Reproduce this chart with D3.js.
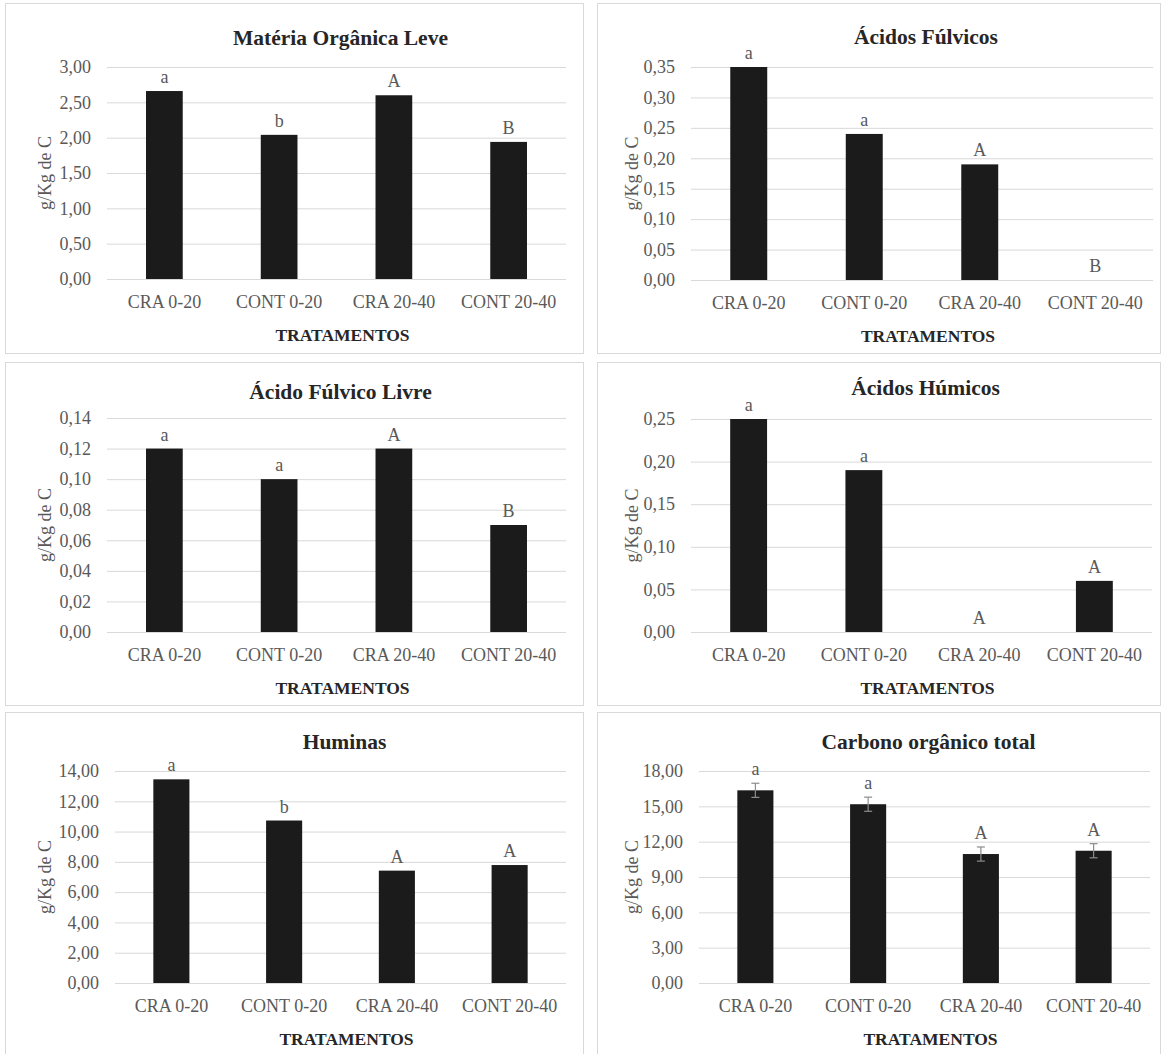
<!DOCTYPE html>
<html>
<head>
<meta charset="utf-8">
<script src="https://cdn.jsdelivr.net/npm/d3@7"></script>
<style>
  html, body { margin: 0; padding: 0; background: #ffffff; }
  svg { display: block; }
  svg text { font-family: "Liberation Serif", "Times New Roman", Times, "DejaVu Serif", serif !important; }
</style>
</head>
<body>
<svg id="chart" width="1163" height="1054"></svg>
<script>
// ---------- DATA ----------
const categories = ["CRA 0-20", "CONT 0-20", "CRA 20-40", "CONT 20-40"];

const molValues  = [2.66, 2.04, 2.60, 1.94];
const molLetters = ["a", "b", "A", "B"];
const molTicks   = [0, 0.5, 1, 1.5, 2, 2.5, 3];

const afValues  = [0.35, 0.24, 0.19, 0];
const afLetters = ["a", "a", "A", "B"];
const afTicks   = [0, 0.05, 0.10, 0.15, 0.20, 0.25, 0.30, 0.35];

const aflValues  = [0.12, 0.10, 0.12, 0.07];
const aflLetters = ["a", "a", "A", "B"];
const aflTicks   = [0, 0.02, 0.04, 0.06, 0.08, 0.10, 0.12, 0.14];

const ahValues  = [0.25, 0.19, 0, 0.06];
const ahLetters = ["a", "a", "A", "A"];
const ahTicks   = [0, 0.05, 0.10, 0.15, 0.20, 0.25];

const huValues  = [13.45, 10.73, 7.42, 7.79];
const huLetters = ["a", "b", "A", "A"];
const huTicks   = [0, 2, 4, 6, 8, 10, 12, 14];

const cotValues  = [16.36, 15.18, 10.95, 11.23];
const cotErrors  = [0.6, 0.6, 0.6, 0.6];
const cotLetters = ["a", "a", "A", "A"];
const cotTicks   = [0, 3, 6, 9, 12, 15, 18];

const titles = ["Matéria Orgânica Leve", "Ácidos Fúlvicos", "Ácido Fúlvico Livre",
                "Ácidos Húmicos", "Huminas", "Carbono orgânico total"];
const yTitle = "g/Kg de C";
const xTitle = "TRATAMENTOS";

// ---------- LAYOUT ----------
const panels = [
  { title: titles[0], values: molValues, letters: molLetters, ticks: molTicks, errors: null,
    box: [5, 3, 583, 353], px: [107, 566], py: [67, 279], titleY: 38, yTitleX: 45 },
  { title: titles[1], values: afValues, letters: afLetters, ticks: afTicks, errors: null,
    box: [597, 3, 1160, 353], px: [691, 1153], py: [67, 280], titleY: 37, yTitleX: 632 },
  { title: titles[2], values: aflValues, letters: aflLetters, ticks: aflTicks, errors: null,
    box: [5, 362, 583, 705], px: [107, 566], py: [418, 632], titleY: 392, yTitleX: 45 },
  { title: titles[3], values: ahValues, letters: ahLetters, ticks: ahTicks, errors: null,
    box: [597, 362, 1160, 705], px: [691, 1152], py: [419, 632], titleY: 388, yTitleX: 632 },
  { title: titles[4], values: huValues, letters: huLetters, ticks: huTicks, errors: null,
    box: [5, 712, 583, 1062], px: [115, 566], py: [771, 983], titleY: 742, yTitleX: 45 },
  { title: titles[5], values: cotValues, letters: cotLetters, ticks: cotTicks, errors: cotErrors,
    box: [597, 712, 1160, 1062], px: [699, 1150], py: [771, 983], titleY: 742, yTitleX: 632 }
];

const FONT = '"Liberation Serif", "Times New Roman", Times, "DejaVu Serif", serif';
const fmt = v => d3.format(".2f")(v).replace(".", ",");
const svg = d3.select("#chart");

panels.forEach(p => {
  const g = svg.append("g").attr("font-family", FONT);
  const [bx0, by0, bx1, by1] = p.box;
  g.append("rect")
    .attr("x", bx0 + 0.5).attr("y", by0 + 0.5)
    .attr("width", bx1 - bx0).attr("height", by1 - by0)
    .attr("fill", "#ffffff").attr("stroke", "#d9d9d9").attr("stroke-width", 1);

  const x = d3.scaleBand().domain(categories).range(p.px).padding(0);
  const maxT = d3.max(p.ticks);
  const y = d3.scaleLinear().domain([0, maxT]).range([p.py[1], p.py[0]]);
  const w = p.px[1] - p.px[0];

  // y axis with gridlines
  const ya = g.append("g")
    .attr("transform", `translate(${p.px[0]},0)`)
    .call(d3.axisLeft(y).tickValues(p.ticks).tickFormat(fmt).tickSize(-w).tickPadding(16));
  ya.attr("font-family", FONT).attr("font-size", 18);
  ya.select(".domain").remove();
  ya.selectAll(".tick line").attr("stroke", "#d9d9d9").attr("stroke-width", 1);
  ya.selectAll(".tick text").attr("fill", "#595959");

  // x axis labels
  const xa = g.append("g")
    .attr("transform", `translate(0,${p.py[1]})`)
    .call(d3.axisBottom(x).tickSize(0).tickPadding(16));
  xa.attr("font-family", FONT).attr("font-size", 18);
  xa.select(".domain").remove();
  xa.selectAll(".tick text").attr("fill", "#595959");

  // bars
  const bw = x.bandwidth() * 0.32;
  g.selectAll("rect.bar")
    .data(p.values)
    .join("rect")
    .attr("class", "bar")
    .attr("x", (d, i) => x(categories[i]) + x.bandwidth() / 2 - bw / 2)
    .attr("y", d => y(d))
    .attr("width", bw)
    .attr("height", d => y(0) - y(d))
    .attr("fill", "#1b1b1b");

  // error bars
  if (p.errors) {
    const eg = g.append("g").attr("stroke", "#8c8c8c").attr("stroke-width", 1.2);
    p.values.forEach((v, i) => {
      const cx = x(categories[i]) + x.bandwidth() / 2;
      const e = p.errors[i];
      eg.append("line").attr("x1", cx).attr("x2", cx).attr("y1", y(v - e)).attr("y2", y(v + e));
      eg.append("line").attr("x1", cx - 4).attr("x2", cx + 4).attr("y1", y(v + e)).attr("y2", y(v + e));
      eg.append("line").attr("x1", cx - 4).attr("x2", cx + 4).attr("y1", y(v - e)).attr("y2", y(v - e));
    });
  }

  // significance letters
  g.selectAll("text.letter")
    .data(p.letters)
    .join("text")
    .attr("class", "letter")
    .attr("x", (d, i) => x(categories[i]) + x.bandwidth() / 2)
    .attr("y", (d, i) => y(p.values[i] + (p.errors ? p.errors[i] : 0)) - 14)
    .attr("text-anchor", "middle")
    .attr("dominant-baseline", "central")
    .attr("fill", "#595959")
    .attr("font-size", 18)
    .text(d => d);

  // title
  g.append("text")
    .attr("x", (p.px[0] + p.px[1]) / 2 + 4)
    .attr("y", p.titleY)
    .attr("text-anchor", "middle")
    .attr("dominant-baseline", "central")
    .attr("fill", "#262626")
    .attr("font-size", 21.5).attr("font-weight", "bold")
    .text(p.title);

  // x title
  g.append("text")
    .attr("x", (p.px[0] + p.px[1]) / 2 + 6)
    .attr("y", p.py[1] + 56)
    .attr("text-anchor", "middle")
    .attr("dominant-baseline", "central")
    .attr("fill", "#262626")
    .attr("font-size", 17.5).attr("font-weight", "bold")
    .text(xTitle);

  // y title
  const cy = (p.py[0] + p.py[1]) / 2;
  g.append("text")
    .attr("transform", `translate(${p.yTitleX},${cy}) rotate(-90)`)
    .attr("text-anchor", "middle")
    .attr("dominant-baseline", "central")
    .attr("fill", "#595959")
    .attr("font-size", 18)
    .text(yTitle);
});
</script>
</body>
</html>
